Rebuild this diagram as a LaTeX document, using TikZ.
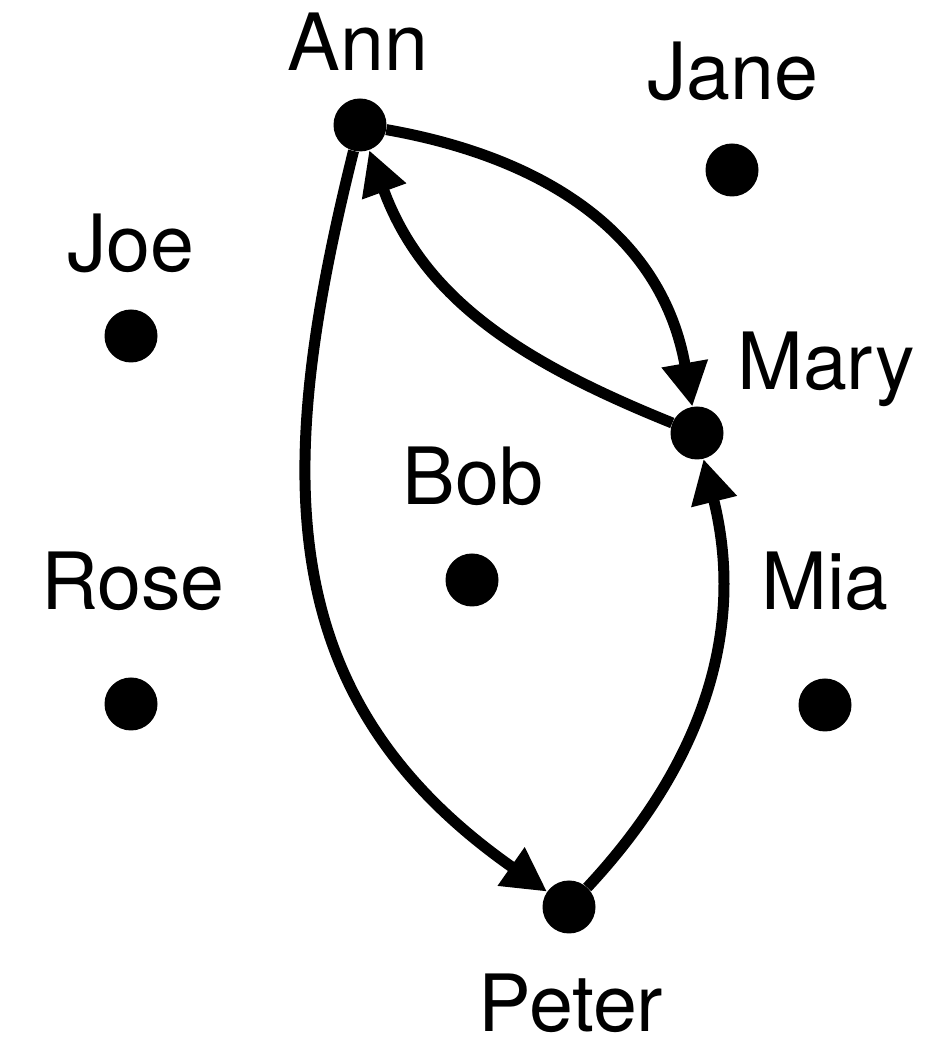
\documentclass[tikz,border=0pt]{standalone}
\usepackage{fontspec}
\setmainfont{TeX Gyre Heros}
\usetikzlibrary{arrows.meta}
\begin{document}
\begin{tikzpicture}[x=1pt,y=1pt,
  person/.style={circle,fill=black,minimum size=53pt,inner sep=0pt},
  personname/.style={anchor=base,inner sep=0pt,font=\fontsize{79}{79}\selectfont},
  link/.style={line width=11pt,-{Triangle[length=44pt,width=44pt]}}]
\useasboundingbox (0,0) rectangle (928,1040);
% people
\node[person] (ann)   at (360,915) {};
\node[person] (jane)  at (732,870) {};
\node[person] (joe)   at (131,704) {};
\node[person] (mary)  at (697,607) {};
\node[person] (bob)   at (472,460) {};
\node[person] (rose)  at (131,336) {};
\node[person] (mia)   at (825,335) {};
\node[person] (peter) at (569,133) {};
% names
\node[personname] (annL)   at (358,969) {Ann};
\node[personname] (janeL)  at (733,940) {Jane};
\node[personname] (joeL)   at (131,768) {Joe};
\node[personname] (maryL)  at (826,650) {Mary};
\node[personname] (bobL)   at (473,535) {Bob};
\node[personname] (roseL)  at (133,430) {Rose};
\node[personname] (miaL)   at (825,430) {Mia};
\node[personname] (peterL) at (571,9) {Peter};
% relations
\draw[link] (ann)   to[out=-10,in=100,looseness=1.05]  (mary);
\draw[link] (mary)  to[out=158,in=-70]  (ann);
\draw[link] (ann)   to[out=256,in=145,looseness=1.12]  (peter);
\draw[link] (peter) to[out=47,in=-76]   (mary);
\end{tikzpicture}
\end{document}
